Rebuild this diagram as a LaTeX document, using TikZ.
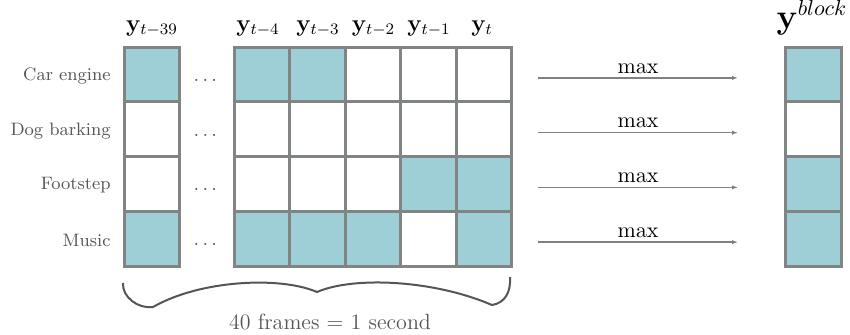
\documentclass[tikz,border=0pt]{standalone}
\usepackage{amsmath}
\usetikzlibrary{arrows.meta,positioning}
\definecolor{cellfill}{HTML}{9ECFD6}
\definecolor{cellline}{HTML}{808482}
\definecolor{labelgray}{HTML}{555555}

\begin{document}
\begin{tikzpicture}[x=0.5pt, y=-0.5pt,
    cell/.style={draw=cellline, line width=1.5pt, inner sep=0pt, outer sep=0pt,
                 minimum width=27.75pt, minimum height=27.4pt},
    cellon/.style={cell, fill=cellfill},
    celloff/.style={cell, fill=white},
    rowlabel/.style={anchor=east, inner sep=0pt, text=labelgray, font=\fontsize{9}{11}\selectfont},
    framelabel/.style={anchor=base, font=\fontsize{11.5}{14}\selectfont},
    maxlabel/.style={above, inner sep=2pt, font=\fontsize{11}{13}\selectfont},
    maxarrow/.style={-{Latex[length=3pt,width=2.2pt]}, line width=0.7pt, draw=gray},
    bracestyle/.style={draw=labelgray, line width=1pt},
  ]
  \useasboundingbox (0,0) rectangle (850,334);

  % === Frame labels ===
  \node[framelabel] (hdr39) at (152,31) {$\mathbf{y}_{t-39}$};
  \node[framelabel] (hdr4) at (258,31) {$\mathbf{y}_{t-4}$};
  \node[framelabel] (hdr3) at (318,31) {$\mathbf{y}_{t-3}$};
  \node[framelabel] (hdr2) at (373.5,31) {$\mathbf{y}_{t-2}$};
  \node[framelabel] (hdr1) at (429,31) {$\mathbf{y}_{t-1}$};
  \node[framelabel] (hdr0) at (482,31) {$\mathbf{y}_{t}$};
  \node[framelabel, font=\fontsize{16}{19}\selectfont] (hdrblock) at (812,28) {$\mathbf{y}^{block}$};

  % === Rows: label, frames, max pooling, block output ===
  \foreach \lab/\ya/\yb/\yc/\yd/\ye/\yf/\yo [count=\r] in {
      Car engine/on/on/on/off/off/off/on,
      Dog barking/off/off/off/off/off/off/off,
      Footstep/off/off/off/off/on/on/on,
      Music/on/on/on/on/off/on/on} {
    \pgfmathsetmacro\ry{74.4+(\r-1)*54.75}
    \node[rowlabel] (lab\r) at (111,\ry+1.5) {\lab};
    \node[cell\ya] (f\r-39) at (152,\ry) {};
    \node[anchor=base, text=labelgray] (dots\r) at (207,\ry+7) {$\dots$};
    \node[cell\yb] (f\r-4) at (261.75,\ry) {};
    \node[cell\yc] (f\r-3) at (317.25,\ry) {};
    \node[cell\yd] (f\r-2) at (372.75,\ry) {};
    \node[cell\ye] (f\r-1) at (428.25,\ry) {};
    \node[cell\yf] (f\r-0) at (483.75,\ry) {};
    \node[cell\yo] (out\r) at (813.5,\ry) {};
    % max arrow
    \coordinate (from\r) at (538,\ry+3.5);
    \coordinate (to\r) at (738,\ry+3.5);
    \draw[maxarrow] (from\r) -- node[maxlabel] (max\r) {$\max$} (to\r);
  }

  % === Brace under the frames ===
  \draw[bracestyle] (123,283) .. controls (122,297) and (138,309) .. (153,307)
    .. controls (200,280) and (280,276) .. (317,292)
    .. controls (354,276) and (434,280) .. (492,305)
    .. controls (505,303) and (511,292) .. (510,277);
  \node[text=labelgray, font=\fontsize{11}{13}\selectfont] (span) at (330,322) {40 frames = 1 second};

\end{tikzpicture}
\end{document}
